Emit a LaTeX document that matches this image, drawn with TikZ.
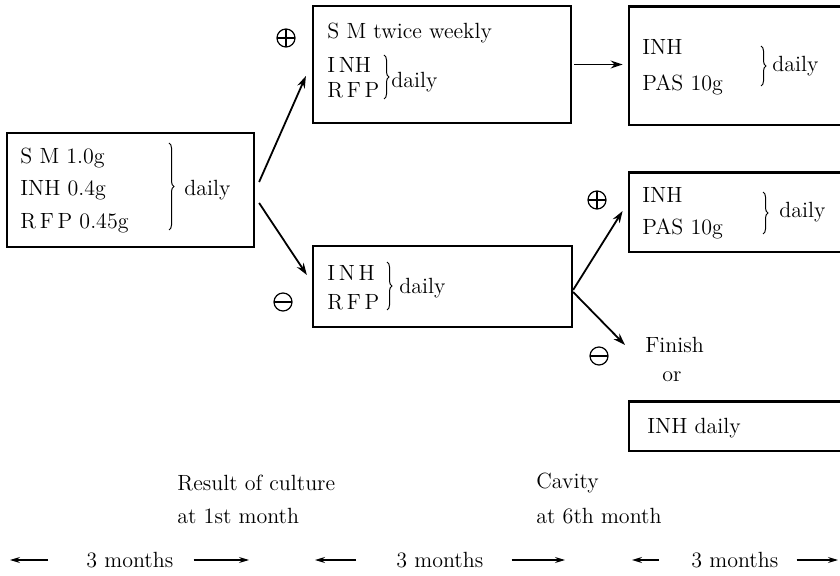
\documentclass[tikz,border=0pt]{standalone}
\usepackage{amsmath,amssymb}
\usetikzlibrary{arrows.meta,fit,decorations.pathreplacing}
\tikzset{
  px/.style={x=0.5pt,y=-0.5pt,font=\fontsize{11}{13}\selectfont},
  box/.style={draw,line width=1.1pt,inner sep=0pt},
  openbox/.style={inner sep=0pt},
  rim/.style={line width=1.1pt},
  arr/.style={line width=.9pt,-{Stealth[length=6pt,width=4pt]}},
  tarr/.style={line width=.6pt,-{Stealth[length=5pt,width=3pt]}},
  brc/.style={decorate,decoration={brace,amplitude=2.5pt},line width=.5pt},
  txt/.style={anchor=west,inner sep=0pt},
  minussgn/.style={circle,draw,line width=.6pt,minimum size=9pt,inner sep=0pt,
    path picture={\draw[line width=.6pt] (path picture bounding box.west) -- (path picture bounding box.east);}},
  plussgn/.style={circle,draw,line width=.6pt,minimum size=9pt,inner sep=0pt,
    path picture={\draw[line width=.6pt] (path picture bounding box.west) -- (path picture bounding box.east)
      (path picture bounding box.north) -- (path picture bounding box.south);}}
}

\begin{document}
\begin{tikzpicture}[px]
  \useasboundingbox (0,0) rectangle (840,576);
  % boxes
  \node[box,fit={(7,133) (254,247)}] (smA) {};
  \node[box,fit={(313,6) (571,123)}] (smB) {};
  \node[box,fit={(313,246) (572,327)}] (smE) {};
  \node[openbox,fit={(629,7) (840,125)}] (smC) {};
  \node[openbox,fit={(629,173) (840,252)}] (smD) {};
  \node[openbox,fit={(629,402) (840,451)}] (smF) {};
  \foreach \b in {smC,smD,smF}
    \draw[rim] (\b.north east) -- (\b.north west) -- (\b.south west) -- (\b.south east);

  % first box
  \node[txt] (a1) at (20,158) {S M 1.0g};
  \node[txt] (a2) at (20,190) {INH 0.4g};
  \node[txt] (a3) at (20,223) {R\,F\,P 0.45g};
  \draw[brc] (169,143) -- (169,230);
  \node[txt] (ad) at (184,190) {daily};

  % culture positive
  \node[txt] (b1) at (327,33) {S M twice weekly};
  \node[txt] (b2) at (327,65) {I\,NH};
  \node[txt] (b3) at (327,90) {R\,F\,P};
  \draw[brc] (384,55) -- (384,99);
  \node[txt] (bd) at (391,82) {daily};

  % culture negative
  \node[txt] (e1) at (327,273) {I\,N\,H};
  \node[txt] (e2) at (327,302) {R\,F\,P};
  \draw[brc] (387,262) -- (387,310);
  \node[txt] (ed) at (399,288) {daily};

  \node[txt] (c1) at (642,47) {INH};
  \node[txt] (c2) at (642,85) {PAS 10g};
  \draw[brc] (761,46) -- (761,86);
  \node[txt] (cd) at (772,66) {daily};

  \node[txt] (d1) at (642,195) {INH};
  \node[txt] (d2) at (642,229) {PAS 10g};
  \draw[brc] (763,192) -- (763,234);
  \node[txt] (dd) at (779,212) {daily};

  \node[txt] (fin) at (645,345) {Finish};
  \node[txt] (or) at (662,377) {or};
  \node[txt] (f1) at (647,428) {INH daily};

  % signs
  \node[plussgn] (pB) at (286,38) {};
  \node[minussgn] (mE) at (283,302) {};
  \node[plussgn] (pD) at (597,200) {};
  \node[minussgn] (mF) at (599,356) {};

  % arrows
  \draw[arr] ([xshift=2pt,yshift=4pt]smA.east) -- ([xshift=-3pt,yshift=-5.75pt]smB.west);
  \draw[arr] ([xshift=2pt,yshift=-6.5pt]smA.east) -- ([xshift=-2.5pt,yshift=5.75pt]smE.west);
  \draw[arr] ([xshift=1pt]smB.east) -- ([xshift=-3pt]smB.east -| smC.west);
  \draw[arr] ([yshift=-1.75pt]smE.east) -- ([xshift=-3pt,yshift=.75pt]smD.west);
  \draw[arr] ([yshift=-2.75pt]smE.east) -- ([xshift=-10pt]fin.west);

  % time axis
  \node[txt] (r1) at (177,483) {Result of culture};
  \node[txt] (r2) at (177,516) {at 1st month};
  \node[txt] (v1) at (536,483) {Cavity};
  \node[txt] (v2) at (536,516) {at 6th month};
  \node[txt] (m1) at (86,560) {3 months};
  \node[txt] (m2) at (396,560) {3 months};
  \node[txt] (m3) at (691,560) {3 months};
  \coordinate (l1) at (10,560);  \coordinate (r1e) at (249,560);
  \coordinate (l2) at (315,560); \coordinate (r2e) at (565,560);
  \coordinate (l3) at (632,560); \coordinate (r3e) at (838,560);
  \draw[tarr] ([xshift=-19pt]m1.west) -- (l1);
  \draw[tarr] ([xshift=10pt]m1.east) -- (r1e);
  \draw[tarr] ([xshift=-20pt]m2.west) -- (l2);
  \draw[tarr] ([xshift=14pt]m2.east) -- (r2e);
  \draw[tarr] ([xshift=-16pt]m3.west) -- (l3);
  \draw[tarr] ([xshift=9pt]m3.east) -- (r3e);
\end{tikzpicture}
\end{document}
